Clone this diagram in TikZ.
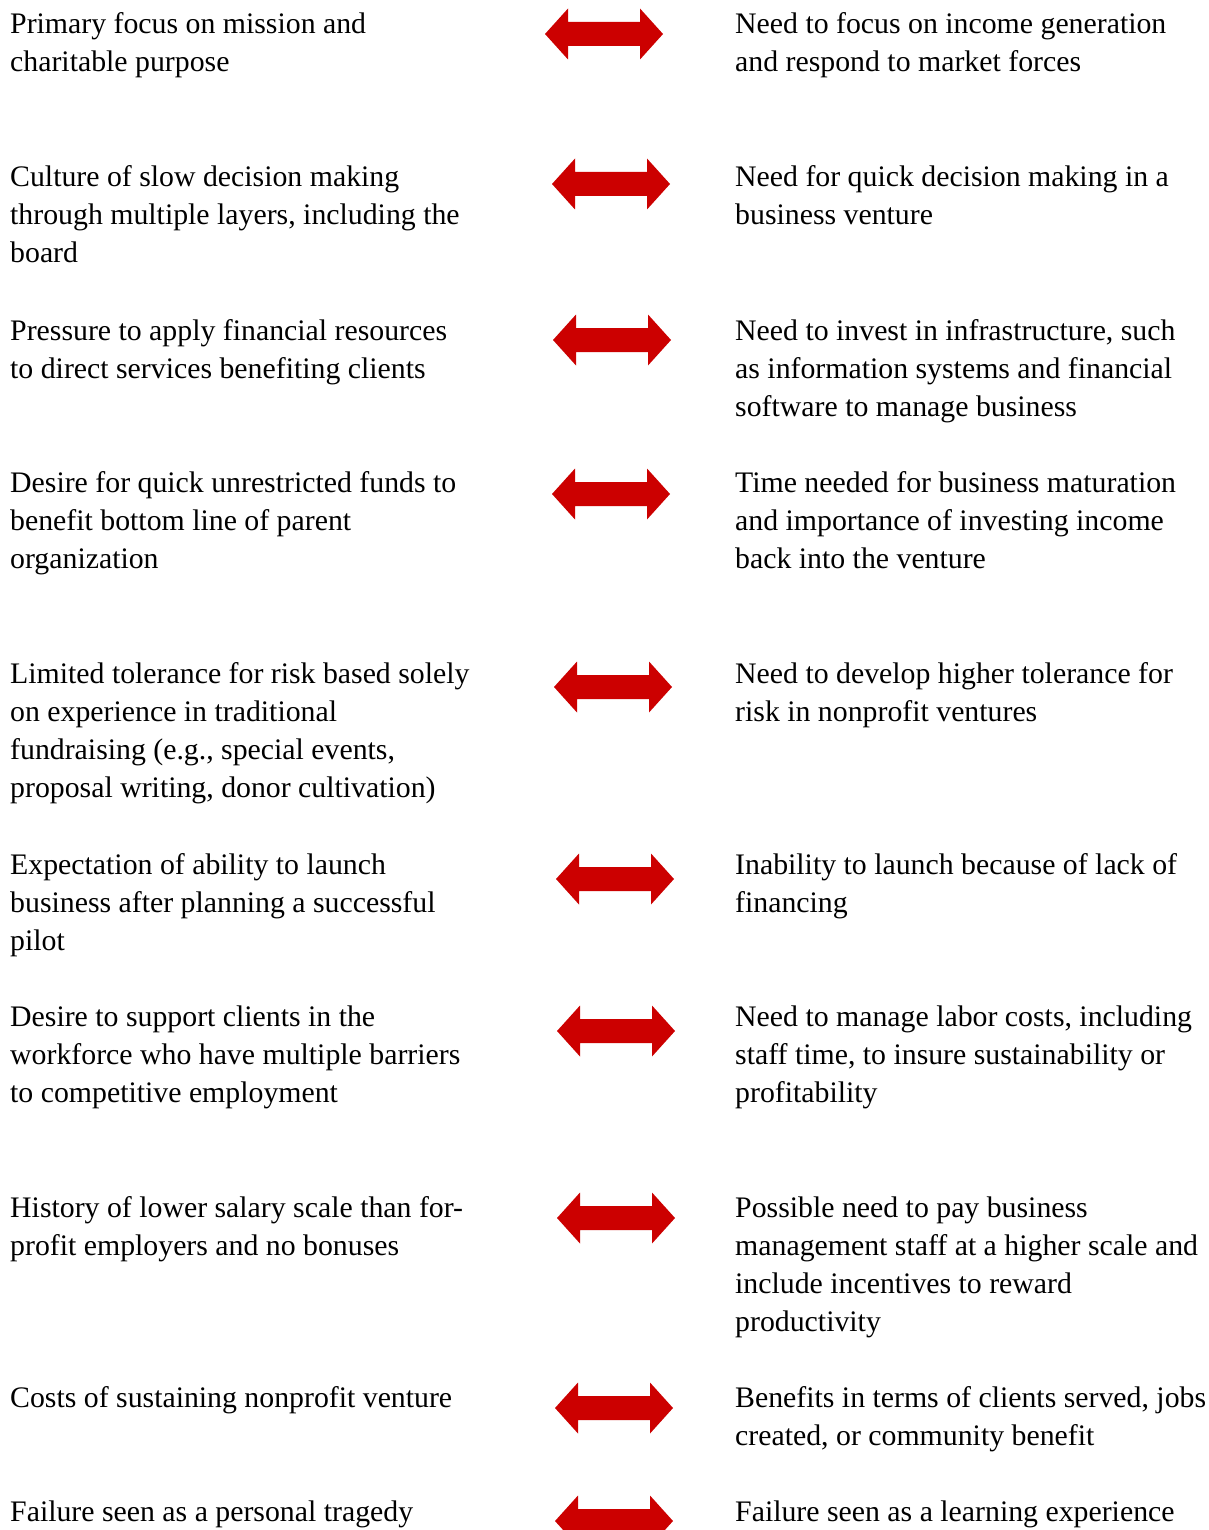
\documentclass[tikz,border=0pt]{standalone}
\usepackage{fontspec}
\setmainfont{Liberation Serif}
\definecolor{arrred}{HTML}{CC0000}
\newcommand{\celltext}[1]{\parbox[t]{480pt}{\fontsize{29.8pt}{38pt}\selectfont #1}}
\newcommand{\dblarrow}[3]{%
  \coordinate (#1) at (#2,#3);
  \fill[arrowfill] (#1) ++(-59,0) -- ++(23,-25.5) -- ++(0,13.5) -- ++(72,0) -- ++(0,-13.5)
    -- ++(23,25.5) -- ++(-23,25.5) -- ++(0,-13.5) -- ++(-72,0) -- ++(0,13.5) -- cycle;}
\begin{document}
\begin{tikzpicture}[x=1pt,y=-1pt,
  txt/.style={anchor=base west, inner sep=0pt},
  arrowfill/.style={fill=arrred}]
\fill[white] (0,0) rectangle (1208,1530);
\useasboundingbox (0,0) rectangle (1208,1530);
% left column
\node[txt] (l1) at (10,34) {\celltext{Primary focus on mission and\\charitable purpose}};
\node[txt] (l2) at (10,187) {\celltext{Culture of slow decision making\\through multiple layers, including the\\board}};
\node[txt] (l3) at (10,340) {\celltext{Pressure to apply financial resources\\to direct services benefiting clients}};
\node[txt] (l4) at (10,492) {\celltext{Desire for quick unrestricted funds to\\benefit bottom line of parent\\organization}};
\node[txt] (l5) at (10,683) {\celltext{Limited tolerance for risk based solely\\on experience in traditional\\fundraising (e.g., special events,\\proposal writing, donor cultivation)}};
\node[txt] (l6) at (10,874) {\celltext{Expectation of ability to launch\\business after planning a successful\\pilot}};
\node[txt] (l7) at (10,1026) {\celltext{Desire to support clients in the\\workforce who have multiple barriers\\to competitive employment}};
\node[txt] (l8) at (10,1217) {\celltext{History of lower salary scale than for-\\profit employers and no bonuses}};
\node[txt] (l9) at (10,1407) {\celltext{Costs of sustaining nonprofit venture}};
\node[txt] (l10) at (10,1521) {\celltext{Failure seen as a personal tragedy}};
% right column
\node[txt] (r1) at (735,34) {\celltext{Need to focus on income generation\\and respond to market forces}};
\node[txt] (r2) at (735,187) {\celltext{Need for quick decision making in a\\business venture}};
\node[txt] (r3) at (735,340) {\celltext{Need to invest in infrastructure, such\\as information systems and financial\\software to manage business}};
\node[txt] (r4) at (735,492) {\celltext{Time needed for business maturation\\and importance of investing income\\back into the venture}};
\node[txt] (r5) at (735,683) {\celltext{Need to develop higher tolerance for\\risk in nonprofit ventures}};
\node[txt] (r6) at (735,874) {\celltext{Inability to launch because of lack of\\financing}};
\node[txt] (r7) at (735,1026) {\celltext{Need to manage labor costs, including\\staff time, to insure sustainability or\\profitability}};
\node[txt] (r8) at (735,1217) {\celltext{Possible need to pay business\\management staff at a higher scale and\\include incentives to reward\\productivity}};
\node[txt] (r9) at (735,1407) {\celltext{Benefits in terms of clients served, jobs\\created, or community benefit}};
\node[txt] (r10) at (735,1521) {\celltext{Failure seen as a learning experience}};
% arrows
\dblarrow{a1}{604}{34}
\dblarrow{a2}{611}{184}
\dblarrow{a3}{612}{340}
\dblarrow{a4}{611}{494}
\dblarrow{a5}{613}{687}
\dblarrow{a6}{615}{879}
\dblarrow{a7}{616}{1031}
\dblarrow{a8}{616}{1218}
\dblarrow{a9}{614}{1408}
\dblarrow{a10}{614}{1521}
\end{tikzpicture}
\end{document}
